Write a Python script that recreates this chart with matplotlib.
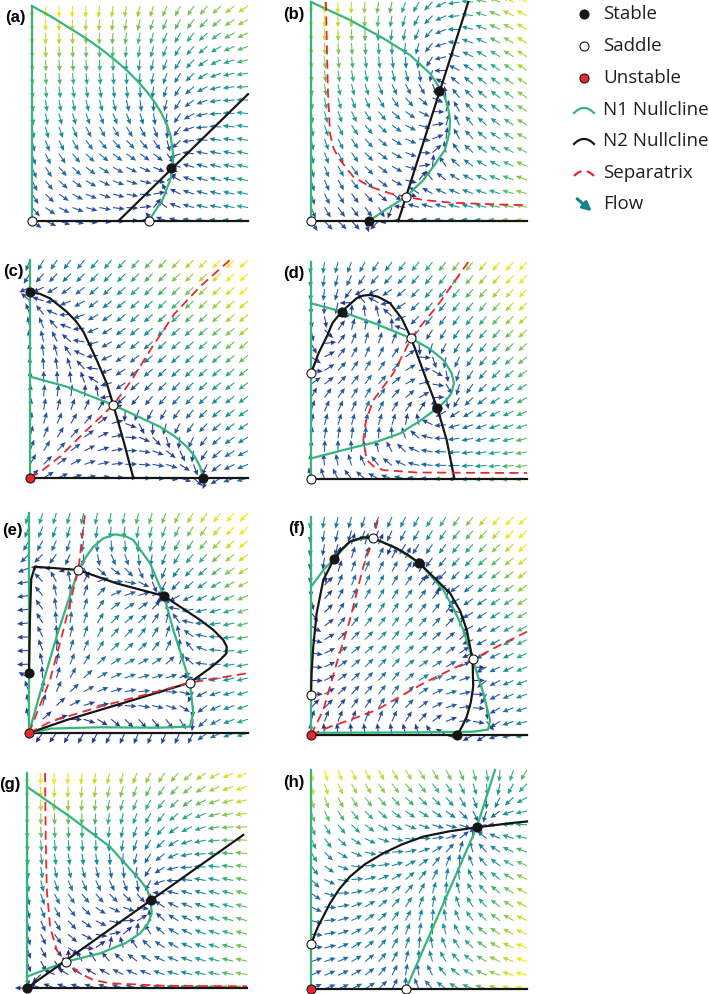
import numpy as np
import matplotlib
matplotlib.use('Agg')
import matplotlib.pyplot as plt
from matplotlib.path import Path
from matplotlib.colors import LinearSegmentedColormap
from matplotlib.patches import FancyArrowPatch

# ---- data (N1 on x, N2 on y, both scaled to 0..1) ----
A_N1 = [(0.54, 0), (0.605, 0.1), (0.643, 0.2), (0.655, 0.3), (0.641, 0.4), (0.624, 0.45), (0.60, 0.5),
        (0.57, 0.55), (0.533, 0.6), (0.489, 0.65), (0.44, 0.7), (0.383, 0.75), (0.32, 0.8),
        (0.249, 0.85), (0.17, 0.9), (0.09, 0.95), (0, 1)]
A_N1_OUT = [(-0.5, 1), (-0.5, -0.5), (0.54, -0.5)]
A_N2 = [(0.40, 0), (1.0, 0.59)]
A_N2_OUT = [(1.5, 0.59), (1.5, -0.5), (0.4, -0.5)]
A_SEP = []
A_STABLE = [(0.645, 0.245)]
A_SADDLE = [(0, 0), (0.54, 0)]
A_UNSTABLE = []

B_N1 = [(0.268, 0), (0.366, 0.065), (0.44, 0.111), (0.52, 0.187), (0.566, 0.248), (0.62, 0.324),
        (0.64, 0.4), (0.644, 0.461), (0.634, 0.52), (0.613, 0.583), (0.551, 0.674), (0.458, 0.758),
        (0.335, 0.834), (0.18, 0.918), (0, 1)]
B_N1_OUT = [(-0.5, 1), (-0.5, -0.5), (0.268, -0.5)]
B_N2 = [(0.404, 0), (0.728, 1)]
B_N2_OUT = [(0.82, 1.3), (1.5, 1.3), (1.5, -0.5), (0.404, -0.5)]
B_SEP = [(0.069, 1), (0.078, 0.6), (0.088, 0.4), (0.105, 0.33), (0.134, 0.279), (0.196, 0.202),
         (0.273, 0.157), (0.366, 0.126), (0.44, 0.111), (0.52, 0.096), (0.644, 0.084),
         (0.85, 0.076), (1.0, 0.072)]
B_STABLE = [(0.594, 0.595), (0.268, 0)]
B_SADDLE = [(0, 0), (0.44, 0.111)]
B_UNSTABLE = []

C_N1 = [(0, 0.465), (0.168, 0.419), (0.382, 0.335), (0.596, 0.235), (0.665, 0.19), (0.719, 0.144),
        (0.755, 0.1), (0.78, 0.053), (0.795, 0)]
C_N1_OUT = [(0.795, -0.5), (-0.5, -0.5), (-0.5, 0.465)]
C_N2 = [(0, 0.852), (0.045, 0.845), (0.092, 0.824), (0.168, 0.763), (0.21, 0.72), (0.245, 0.671),
        (0.306, 0.541), (0.352, 0.434), (0.382, 0.335), (0.428, 0.174), (0.474, 0)]
C_N2_OUT = [(0.474, -0.5), (-0.5, -0.5), (-0.5, 0.852)]
C_SEP = [(0, 0), (0.05, 0.03), (0.14, 0.1), (0.25, 0.21), (0.382, 0.335), (0.46, 0.44),
         (0.56, 0.6), (0.66, 0.75), (0.78, 0.878), (0.917, 1.0)]
C_STABLE = [(0, 0.852), (0.795, 0)]
C_SADDLE = [(0.382, 0.335)]
C_UNSTABLE = [(0, 0)]

D_N1 = [(0, 0.81), (0.142, 0.771), (0.3, 0.715), (0.464, 0.648), (0.55, 0.6), (0.613, 0.548),
        (0.65, 0.49), (0.662, 0.441), (0.65, 0.395), (0.627, 0.364), (0.585, 0.326), (0.5, 0.265),
        (0.412, 0.21), (0.3, 0.17), (0.18, 0.141), (0, 0.095)]
D_N1_OUT = [(-0.5, 0.095), (-0.5, 0.81)]
D_N2 = [(0, 0.487), (0.035, 0.58), (0.073, 0.656), (0.1, 0.72), (0.142, 0.771), (0.211, 0.833),
        (0.24, 0.845), (0.273, 0.848), (0.31, 0.84), (0.366, 0.81), (0.42, 0.74), (0.464, 0.648),
        (0.535, 0.456), (0.585, 0.326), (0.628, 0.18), (0.664, 0)]
D_N2_OUT = [(0.664, -0.5), (-0.5, -0.5), (-0.5, 0.487)]
D_SEP = [(0.728, 1.0), (0.582, 0.794), (0.505, 0.702), (0.464, 0.648), (0.381, 0.487),
         (0.289, 0.364), (0.255, 0.27), (0.242, 0.18), (0.258, 0.088), (0.29, 0.058),
         (0.335, 0.041), (0.489, 0.03), (0.875, 0.028), (1.0, 0.028)]
D_STABLE = [(0.142, 0.771), (0.585, 0.326)]
D_SADDLE = [(0, 0), (0, 0.487), (0.464, 0.648)]
D_UNSTABLE = []

E_N1 = [(0, 0), (0.05, 0.18), (0.126, 0.438), (0.225, 0.741), (0.26, 0.80), (0.294, 0.847),
        (0.34, 0.885), (0.393, 0.903), (0.44, 0.895), (0.476, 0.877), (0.553, 0.771),
        (0.616, 0.623), (0.659, 0.468), (0.735, 0.229), (0.75, 0.089), (0.735, 0.029),
        (0.59, 0.024), (0.32, 0.026), (0.1, 0.02), (0, 0)]
E_N1_OUT = []
E_N2 = [(0, 0.271), (0.005, 0.544), (0.01, 0.70), (0.027, 0.756), (0.225, 0.741), (0.4, 0.68),
        (0.616, 0.623), (0.781, 0.514), (0.84, 0.47), (0.887, 0.423), (0.903, 0.392),
        (0.9, 0.36), (0.872, 0.332), (0.82, 0.29), (0.735, 0.229), (0.476, 0.15),
        (0.172, 0.059), (0, 0)]
E_N2_OUT = [(-0.3, 0), (-0.3, 0.271)]
E_SEP = [(0, 0), (0.096, 0.241), (0.157, 0.468), (0.202, 0.65), (0.225, 0.741), (0.256, 1.0)]
E_SEP2 = [(0, 0), (0.096, 0.051), (0.324, 0.12), (0.553, 0.18), (0.735, 0.229), (0.994, 0.271)]
E_STABLE = [(0, 0.271), (0.616, 0.623)]
E_SADDLE = [(0.225, 0.741), (0.735, 0.229)]
E_UNSTABLE = [(0, 0)]

F_N1 = [(0, 0.68), (0.06, 0.76), (0.106, 0.807), (0.18, 0.887), (0.23, 0.9), (0.289, 0.902),
        (0.381, 0.864), (0.5, 0.79), (0.613, 0.665), (0.665, 0.57), (0.705, 0.482),
        (0.748, 0.347), (0.798, 0.191), (0.829, 0.069), (0.82, 0.025), (0.75, 0.015),
        (0.5, 0.012), (0, 0.01)]
F_N1_OUT = [(-0.3, 0.01), (-0.3, 0.68)]
F_N2 = [(0, 0.183), (0.003, 0.29), (0.01, 0.4), (0.026, 0.558), (0.057, 0.711), (0.106, 0.807),
        (0.14, 0.85), (0.18, 0.887), (0.242, 0.907), (0.289, 0.902), (0.33, 0.885),
        (0.397, 0.856), (0.45, 0.825), (0.5, 0.79), (0.644, 0.65), (0.69, 0.57), (0.721, 0.482),
        (0.748, 0.347), (0.751, 0.222), (0.74, 0.15), (0.721, 0.084), (0.70, 0.04), (0.677, 0)]
F_N2_OUT = [(0.677, -0.3), (-0.3, -0.3), (-0.3, 0.183)]
F_SEP = [(0, 0), (0.057, 0.115), (0.119, 0.329), (0.18, 0.528), (0.242, 0.772), (0.289, 0.902),
         (0.312, 1.0)]
F_SEP2 = [(0, 0), (0.088, 0.038), (0.18, 0.069), (0.304, 0.115), (0.397, 0.168), (0.52, 0.237),
          (0.644, 0.298), (0.748, 0.347), (0.906, 0.428), (1.0, 0.474)]
F_STABLE = [(0.106, 0.807), (0.5, 0.79), (0.677, 0)]
F_SADDLE = [(0, 0.183), (0.289, 0.902), (0.748, 0.347)]
F_UNSTABLE = [(0, 0)]

G_N1 = [(0, 0.936), (0.195, 0.797), (0.377, 0.657), (0.514, 0.502), (0.545, 0.46), (0.562, 0.409),
        (0.567, 0.347), (0.55, 0.3), (0.514, 0.254), (0.45, 0.21), (0.332, 0.161),
        (0.176, 0.122), (0, 0.053)]
G_N1_OUT = [(-0.3, 0.053), (-0.3, 0.936)]
G_N2 = [(0, 0), (0.983, 0.712)]
G_N2_OUT = [(1.5, 0.712), (1.5, -0.5), (0, -0.5)]
G_SEP = [(0.082, 1.0), (0.085, 0.7), (0.09, 0.456), (0.105, 0.285), (0.135, 0.177),
         (0.176, 0.122), (0.241, 0.068), (0.3, 0.038), (0.377, 0.022), (0.635, 0.01), (1.0, 0.008)]
G_STABLE = [(0, 0), (0.562, 0.409)]
G_SADDLE = [(0.176, 0.122)]
G_UNSTABLE = []

H_N1 = [(0.44, 0), (0.566, 0.285), (0.674, 0.528), (0.767, 0.738), (0.852, 1.0)]
H_N1_OUT = [(0.95, 1.3), (-0.5, 1.3), (-0.5, -0.5), (0.44, -0.5)]
H_N2 = [(0, 0.205), (0.03, 0.28), (0.088, 0.391), (0.13, 0.455), (0.18, 0.513), (0.25, 0.57),
        (0.335, 0.62), (0.42, 0.66), (0.52, 0.696), (0.64, 0.72), (0.767, 0.738), (0.921, 0.757),
        (1.0, 0.765)]
H_N2_OUT = [(1.5, 0.77), (1.5, -0.5), (-0.5, -0.5), (-0.5, 0.205)]
H_SEP = []
H_STABLE = [(0.767, 0.738)]
H_SADDLE = [(0.44, 0), (0, 0.205)]
H_UNSTABLE = [(0, 0)]

LABELS = ['(a)', '(b)', '(c)', '(d)', '(e)', '(f)', '(g)', '(h)']
# axes boxes in pixels: left, top, right, bottom
BOXES = [(32, 6, 248, 221), (311, 2, 527, 221), (30, 260, 248, 478), (311, 262, 527, 479),
         (29, 513, 248, 733), (311, 517, 527, 735), (27, 773, 247, 988), (311, 770, 527, 989)]
OFFSETS = [0.12, 0.12, 0.12, 0.12, 0.3, 0.12, 0.12, 0.15]

LEGEND_LABELS = ['Stable', 'Saddle', 'Unstable', 'N1 Nullcline', 'N2 Nullcline', 'Separatrix', 'Flow']

GREEN = '#35b57c'
RED = '#e8282e'
BLACK = '#161616'
flow_cmap = LinearSegmentedColormap.from_list(
    'flow', ['#2a2b7e', '#274a9b', '#1f6fa3', '#17909a', '#2aa985', '#6fc05a', '#bdd334', '#f4e51c'])

panels = [
    (A_N1, A_N1_OUT, A_N2, A_N2_OUT, [A_SEP], A_STABLE, A_SADDLE, A_UNSTABLE),
    (B_N1, B_N1_OUT, B_N2, B_N2_OUT, [B_SEP], B_STABLE, B_SADDLE, B_UNSTABLE),
    (C_N1, C_N1_OUT, C_N2, C_N2_OUT, [C_SEP], C_STABLE, C_SADDLE, C_UNSTABLE),
    (D_N1, D_N1_OUT, D_N2, D_N2_OUT, [D_SEP], D_STABLE, D_SADDLE, D_UNSTABLE),
    (E_N1, E_N1_OUT, E_N2, E_N2_OUT, [E_SEP, E_SEP2], E_STABLE, E_SADDLE, E_UNSTABLE),
    (F_N1, F_N1_OUT, F_N2, F_N2_OUT, [F_SEP, F_SEP2], F_STABLE, F_SADDLE, F_UNSTABLE),
    (G_N1, G_N1_OUT, G_N2, G_N2_OUT, [G_SEP], G_STABLE, G_SADDLE, G_UNSTABLE),
    (H_N1, H_N1_OUT, H_N2, H_N2_OUT, [H_SEP], H_STABLE, H_SADDLE, H_UNSTABLE),
]


def curve_dist(X, Y, pts):
    P = np.asarray(pts, float)
    d = np.full(X.shape, np.inf)
    for (x0, y0), (x1, y1) in zip(P[:-1], P[1:]):
        vx, vy = x1 - x0, y1 - y0
        t = np.clip(((X - x0) * vx + (Y - y0) * vy) / (vx * vx + vy * vy), 0, 1)
        d = np.minimum(d, np.hypot(X - x0 - t * vx, Y - y0 - t * vy))
    return d


def growth(X, Y, curve, outside):
    # positive on the side of the nullcline where the species grows
    poly = Path(np.vstack([np.asarray(curve, float)] + ([np.asarray(outside, float)] if outside else [])))
    inside = poly.contains_points(np.c_[X.ravel(), Y.ravel()]).reshape(X.shape)
    return np.where(inside, 1.0, -1.0) * curve_dist(X, Y, curve)


W, H = 709, 994
fig = plt.figure(figsize=(W / 100, H / 100), dpi=100)

grid = np.linspace(0, 1, 17)
X, Y = np.meshgrid(grid, grid)
L = 0.055

for k, (n1, n1o, n2, n2o, seps, stable, saddle, unstable) in enumerate(panels):
    l, t, r, b = BOXES[k]
    ax = fig.add_axes([l / W, 1 - b / H, (r - l) / W, (b - t) / H])
    ax.set_xlim(0, 1)
    ax.set_ylim(0, 1)
    ax.axis('off')

    off = OFFSETS[k]
    U = (X + off) * growth(X, Y, n1, n1o)
    V = (Y + off) * growth(X, Y, n2, n2o)
    S = np.hypot(U, V)
    S[S == 0] = 1e-9
    C = np.clip(S / np.percentile(S, 99), 0, 1) ** 0.75
    ax.quiver(X, Y, U / S * L, V / S * L, C, cmap=flow_cmap, clim=(0, 1),
              angles='xy', scale_units='xy', scale=1, pivot='tail',
              width=0.005, headwidth=4.6, headlength=5.2, headaxislength=4.8, clip_on=False, zorder=1)

    # axis nullclines
    ax.plot([0, 0], [0, 1], color=GREEN, lw=1.6, clip_on=False, zorder=2)
    ax.plot([0, 1], [0, 0], color=BLACK, lw=1.6, clip_on=False, zorder=2)

    n1a = np.asarray(n1)
    n2a = np.asarray(n2)
    ax.plot(n1a[:, 0], n1a[:, 1], color=GREEN, lw=1.6, clip_on=False, zorder=3)
    ax.plot(n2a[:, 0], n2a[:, 1], color=BLACK, lw=1.6, clip_on=False, zorder=3)
    for sep in seps:
        if sep:
            s = np.asarray(sep)
            ax.plot(s[:, 0], s[:, 1], color=RED, lw=1.3, dashes=(5, 3), clip_on=False, zorder=4)

    for pts, fc in ((stable, BLACK), (saddle, 'white'), (unstable, RED)):
        if pts:
            p = np.asarray(pts)
            ax.plot(p[:, 0], p[:, 1], 'o', ms=6.5, mfc=fc, mec=BLACK, mew=0.8,
                    clip_on=False, zorder=5)

    ax.text(-0.03, 0.945 if k != 4 else 0.92, LABELS[k], transform=ax.transAxes,
            ha='right', va='center', fontsize=12, fontweight='bold', family='Liberation Sans')

# legend drawn in pixel coordinates
lax = fig.add_axes([555 / W, 1 - 225 / H, 154 / W, 225 / H])
lax.set_xlim(555, 709)
lax.set_ylim(225, 0)
lax.axis('off')
rows = [14, 46, 78, 110, 141, 173, 204]
marker_styles = [BLACK, 'white', RED]
for i, lab in enumerate(LEGEND_LABELS):
    yc = rows[i]
    if i < 3:
        lax.plot([584], [yc], 'o', ms=6.5, mfc=marker_styles[i], mec=BLACK, mew=0.8)
    elif i < 6:
        tt = np.linspace(-1, 1, 25)
        col = [GREEN, BLACK, RED][i - 3]
        kw = dict(dashes=(4, 2.5)) if i == 5 else {}
        lax.plot(584 + 10 * tt, yc + 3 - 5 * (1 - tt ** 2), color=col, lw=1.6, **kw)
    else:
        lax.add_patch(FancyArrowPatch((575, yc - 7), (594, yc + 9), arrowstyle='-|>',
                                      mutation_scale=13, lw=2.2, color='#17808f'))
    lax.text(603, yc, lab, fontsize=13.5, family='Open Sans', va='center', ha='left',
             color='#231f20')

fig.savefig('out.png', dpi=100)
